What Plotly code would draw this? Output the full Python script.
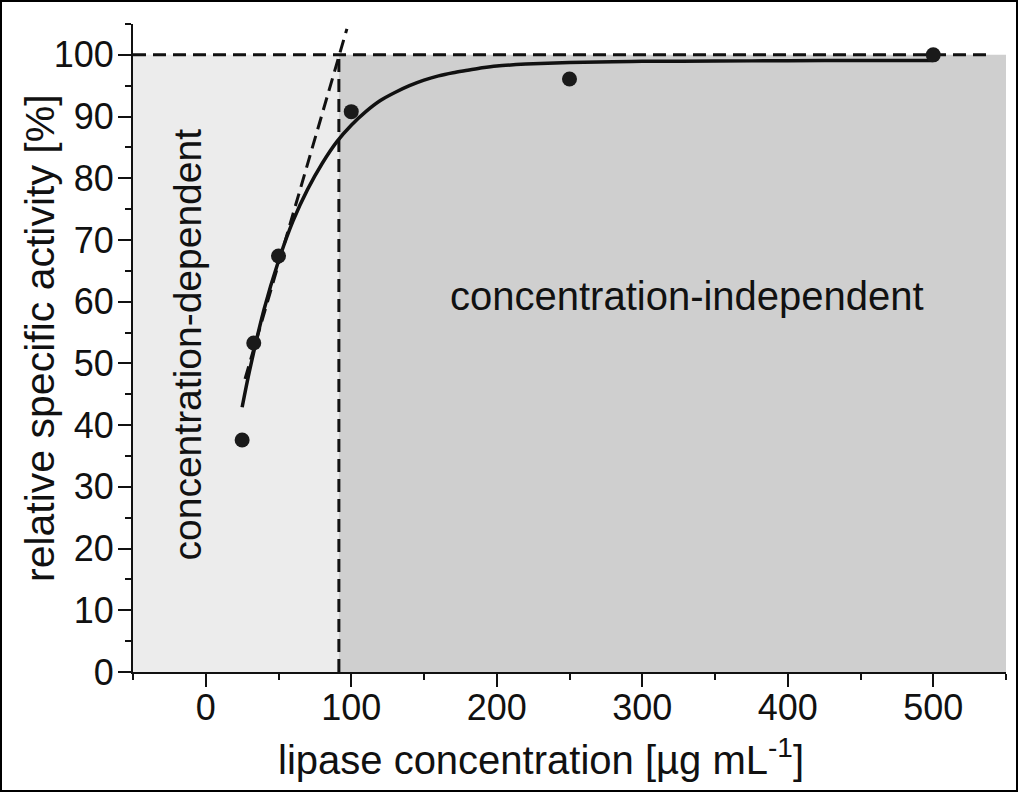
import plotly.graph_objects as go

# measured points
conc = [25, 33, 50, 100, 250, 500]
activity = [37.6, 53.3, 67.4, 90.8, 96.1, 100.0]

# fitted curve
fit_x = [25, 30, 40, 50, 60, 70, 80, 90, 100, 110, 120, 130, 140, 150, 160, 170, 180, 190, 200,
         220, 240, 260, 280, 300, 350, 400, 450, 500]
fit_y = [42.9, 48.7, 58.7, 66.6, 73.1, 78.2, 82.4, 85.9, 88.6, 90.8, 92.6, 93.9, 95.0, 95.9, 96.6, 97.1,
         97.5, 97.9, 98.2, 98.5, 98.7, 98.8, 98.9, 98.95, 99.0, 99.05, 99.1, 99.1]

# guide lines
tangent_x = [27, 97]
tangent_y = [47.5, 104.2]
plateau_x = [-50, 538]
plateau_y = [100, 100]
boundary_x = [91.5, 91.5]
boundary_y = [0, 100]

x_range = [-50, 550]
y_range = [0, 105]
x_ticks = [0, 100, 200, 300, 400, 500]
y_ticks = [0, 10, 20, 30, 40, 50, 60, 70, 80, 90, 100]

FONT = "Liberation Sans, Arial, sans-serif"
INK = "#111111"

fig = go.Figure()

# shaded regions
fig.add_shape(type="rect", xref="x", yref="y", x0=x_range[0], x1=boundary_x[0], y0=0, y1=100,
              fillcolor="#ececec", line_width=0, layer="below")
fig.add_shape(type="rect", xref="x", yref="y", x0=boundary_x[0], x1=x_range[1], y0=0, y1=100,
              fillcolor="#cfcfcf", line_width=0, layer="below")

dash = "13px,7px"
dline = dict(color=INK, width=3, dash=dash)
fig.add_trace(go.Scatter(x=plateau_x, y=plateau_y, mode="lines", line=dline,
                         showlegend=False, hoverinfo="skip"))
fig.add_trace(go.Scatter(x=boundary_x, y=boundary_y, mode="lines", line=dline,
                         showlegend=False, hoverinfo="skip"))
fig.add_trace(go.Scatter(x=tangent_x, y=tangent_y, mode="lines", line=dline,
                         showlegend=False, hoverinfo="skip"))
fig.add_trace(go.Scatter(x=fit_x, y=fit_y, mode="lines", line_shape="spline",
                         line=dict(color=INK, width=3.5, smoothing=0.8), showlegend=False))
fig.add_trace(go.Scatter(x=conc, y=activity, mode="markers",
                         marker=dict(color="#1a1a1a", size=15), showlegend=False, cliponaxis=False))

axis_common = dict(showline=True, linecolor=INK, linewidth=2, ticks="outside",
                   tickcolor=INK, tickwidth=2, ticklen=13, showgrid=False, zeroline=False,
                   tickfont=dict(family=FONT, size=36, color=INK), mirror=False)

fig.update_xaxes(range=x_range, tickvals=x_ticks, ticklabelstandoff=-10,
                 minor=dict(dtick=50, tick0=-50, ticks="outside", ticklen=6, tickwidth=2, tickcolor=INK),
                 **axis_common)
fig.update_yaxes(range=y_range, tickvals=y_ticks, ticklabelstandoff=-3,
                 minor=dict(dtick=5, tick0=0, ticks="outside", ticklen=6, tickwidth=2, tickcolor=INK),
                 **axis_common)

W, H = 1018, 792
ML, MR, MT, MB = 133, 12, 24, 120
pw, ph = W - ML - MR, H - MT - MB

fig.add_annotation(text="lipase concentration [µg mL<sup>-1</sup>]", xref="paper", yref="paper",
                   x=(541 - ML) / pw, y=-(757 - (H - MB)) / ph, xanchor="center", yanchor="middle",
                   showarrow=False, font=dict(family=FONT, size=40, color=INK))
fig.add_annotation(text="relative specific activity [%]", xref="paper", yref="paper",
                   x=(40 - ML) / pw, y=((H - MB) - 338) / ph, xanchor="center", yanchor="middle",
                   textangle=-90, showarrow=False, font=dict(family=FONT, size=41, color=INK))
fig.add_annotation(text="concentration-dependent", xref="x", yref="y", x=-12.5, y=53,
                   xanchor="center", yanchor="middle", textangle=-90, showarrow=False,
                   font=dict(family=FONT, size=39, color=INK))
fig.add_annotation(text="concentration-independent", xref="x", yref="y", x=331, y=61,
                   xanchor="center", yanchor="middle", showarrow=False,
                   font=dict(family=FONT, size=40, color=INK))

# outer frame of the figure
fig.add_shape(type="rect", xref="paper", yref="paper",
              x0=-(ML - 1) / pw, x1=1 + (MR - 1) / pw, y0=-(MB - 1) / ph, y1=1 + (MT - 1) / ph,
              line=dict(color="#000000", width=2), fillcolor="rgba(0,0,0,0)", layer="above")

fig.update_layout(width=W, height=H, margin=dict(l=ML, r=MR, t=MT, b=MB, pad=0),
                  plot_bgcolor="white", paper_bgcolor="white", showlegend=False,
                  font=dict(family=FONT, color=INK))

fig.write_html("out.html", config={"displayModeBar": False},
               post_script="document.body.style.margin='0';document.body.style.overflow='hidden';")
